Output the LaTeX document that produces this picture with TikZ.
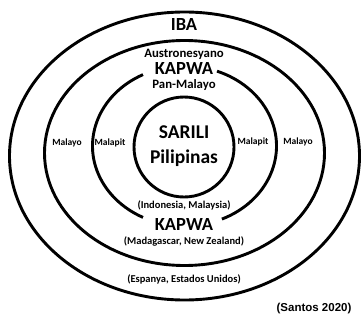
\documentclass[tikz,border=0pt]{standalone}
\usepackage{fontspec}
\setmainfont{Carlito}
\newfontfamily\arialfont{Liberation Sans}
\usetikzlibrary{positioning}
\tikzset{%
	ring/.style={
		draw,
		line width=2.9pt
	},
	big label/.style={
		font=\bfseries\fontsize{18.5}{18.5}\selectfont,
		inner sep=0pt
	},
	mid label/.style={
		font=\bfseries\fontsize{12.8}{12.8}\selectfont,
		inner sep=0pt
	},
	small label/.style={
		font=\bfseries\fontsize{10.5}{10.5}\selectfont,
		inner sep=0pt
	},
	side label/.style={
		font=\bfseries\fontsize{9.5}{9.5}\selectfont,
		inner sep=0pt
	},
}

\begin{document}
\begin{tikzpicture}[x=1pt, y=-1pt]
	\useasboundingbox (0,0) rectangle (361,321);
	
	% Draw the outer rings
	\draw[ring] (184.5,156) ellipse [x radius=175pt, y radius=144pt];
	\draw[ring] (184.5,153) ellipse [x radius=140pt, y radius=112.5pt];
	
	% Draw the broken ring (KAPWA)
	\coordinate (kc) at (184.5,146);
	\draw[ring] (kc) ++(116.8:92pt and 80pt) arc [start angle=116.8, end angle=243.2, x radius=92pt, y radius=80pt];
	\draw[ring] (kc) ++(-66:92pt and 80pt) arc [start angle=-66, end angle=69.3, x radius=92pt, y radius=80pt];
	
	% Draw the inner circle
	\draw[ring] (184,147) circle (50pt);
	
	% Labels
	\node[big label] (iba) at (184,25) {IBA};
	\node[mid label] (austro) at (184,54) {Austronesyano};
	\node[big label] (kapwatop) at (184,68.5) {KAPWA};
	\node[mid label] (panmalayo) at (184,85) {Pan-Malayo};
	\node[big label, font=\bfseries\fontsize{19.5}{19.5}\selectfont] (sarili) at (184,132) {SARILI};
	\node[big label, font=\bfseries\fontsize{19.5}{19.5}\selectfont] (pilipinas) at (184,158) {Pilipinas};
	\node[small label] (indo) at (184,205) {(Indonesia, Malaysia)};
	\node[big label] (kapwabot) at (184,224) {KAPWA};
	\node[small label] (mada) at (184,241) {(Madagascar, New Zealand)};
	\node[small label] (espanya) at (184,279) {(Espanya, Estados Unidos)};
	
	\node[side label] (malayoL) at (67,143) {Malayo};
	\node[side label] (malapitL) at (110,143) {Malapit};
	\node[side label] (malapitR) at (253,142) {Malapit};
	\node[side label] (malayoR) at (298,142) {Malayo};
	
	\node[font=\arialfont\bfseries\fontsize{11.5}{11.5}\selectfont, inner sep=0pt] (src) at (314,308.5) {(Santos 2020)};
\end{tikzpicture}
\end{document}
